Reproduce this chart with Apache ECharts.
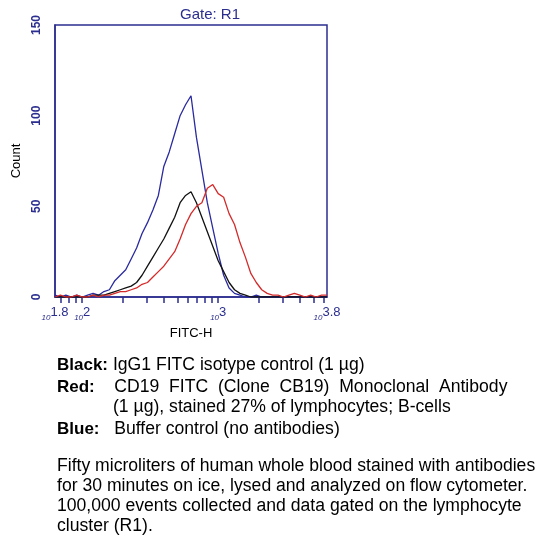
<!DOCTYPE html>
<html><head><meta charset="utf-8">
<script src="https://cdn.jsdelivr.net/npm/echarts@6/dist/echarts.min.js"></script>
<style>html,body{margin:0;padding:0;background:#fff}#c{width:538px;height:540px}</style>
</head><body><div id="c"></div>
<script>
const xExp = [1.80,1.84,1.88,1.92,1.96,2.00,2.04,2.08,2.12,2.16,2.20,2.24,2.28,2.32,2.36,2.40,2.44,2.48,2.52,2.56,2.60,2.64,2.68,2.72,2.76,2.80,2.84,2.88,2.92,2.96,3.00,3.04,3.08,3.12,3.16,3.20,3.24,3.28,3.32,3.36,3.40,3.44,3.48,3.52,3.56,3.60,3.64,3.68,3.72,3.76,3.80];
const blue = [1,0,1,0,1,0,1,2,1,3,4,9,12,15,21,27,35,41,48,56,72,80,90,100,106,111,88,70,52,38,24,12,5,2,1,0,0,1,0,0,0,0,0,0,0,0,0,0,0,0,0];
const black= [0,0,0,0,0,0,0,1,1,1,2,3,4,5,6,8,12,17,22,27,32,38,44,52,56,58,52,44,36,28,20,14,8,4,2,1,0,0,0,0,0,0,0,0,0,0,0,0,0,0,0];
const red  = [0,1,0,0,1,0,0,1,0,1,1,2,3,3,4,5,7,8,11,14,17,21,25,32,40,46,50,52,60,62,57,55,46,40,30,22,13,8,4,2,1,1,0,1,2,1,0,1,0,1,1];
const xLabels = [1.8,2,3,3.8];
const minorTicks = [70,80,90,100,200,300,400,500,600,700,800,900,1000,2000,3000,4000,5000,6000].map(v=>Math.log10(v));
const AX = '#2b2e8f';
const mk = a => xExp.map((x,i)=>[x,a[i]]);
const chart = echarts.init(document.getElementById('c'));
const F = '"Liberation Sans", Arial, sans-serif';
const FS = '17.6px ';
const txt = (x,y,text)=>({type:'text',left:x,top:y,style:{text,font:FS+F,fill:'#000'}});
const rt = (x,y,text)=>({type:'text',left:x,top:y,style:{text,font:FS+F,fill:'#000',rich:{b:{fontWeight:'bold',fontSize:17,fontFamily:F}}}});
chart.setOption({
  animation:false,
  grid:{left:55,right:211,top:25,bottom:243,show:true,borderColor:AX,borderWidth:1.5},
  title:{text:'Gate: R1',left:205,top:2,textAlign:'center',textStyle:{color:AX,fontSize:15,fontWeight:'normal',fontFamily:F}},
  xAxis:{type:'value',min:1.8,max:3.8,name:'FITC-H',nameLocation:'middle',nameGap:30,
    nameTextStyle:{color:'#000',fontSize:13,fontFamily:F},
    axisLine:{lineStyle:{color:AX,width:1.5}},splitLine:{show:false},
    axisTick:{customValues:minorTicks,length:6,lineStyle:{color:AX,width:1.5}},
    axisLabel:{customValues:xLabels,margin:9,formatter:v=>'{a|10}{b|'+(Math.round(v*10)/10)+'}',
      rich:{a:{fontSize:8,color:AX,fontFamily:F,fontStyle:'italic',padding:[6,0,0,0]},b:{fontSize:13,color:AX,fontFamily:F,padding:[0,0,4,0]}}}},
  yAxis:{type:'value',min:0,max:150,interval:50,name:'Count',nameLocation:'middle',nameGap:32,
    nameTextStyle:{color:'#000',fontSize:13,fontFamily:F},
    axisLine:{show:true,lineStyle:{color:AX,width:1.5}},splitLine:{show:false},
    axisTick:{show:false},
    axisLabel:{rotate:90,color:AX,fontSize:12,fontWeight:'bold',fontFamily:F,margin:12}},
  series:[
    {type:'line',data:mk(blue),symbol:'none',lineStyle:{color:'#2a2aa0',width:1.3}},
    {type:'line',data:mk(black),symbol:'none',lineStyle:{color:'#111',width:1.3}},
    {type:'line',data:mk(red),symbol:'none',lineStyle:{color:'#d42a2a',width:1.3}}
  ],
  graphic:[
    rt(57,356,'{b|Black:} IgG1 FITC isotype control (1 µg)'),
    rt(57,378,'{b|Red:}    CD19  FITC  (Clone  CB19)  Monoclonal  Antibody'),
    txt(113,398,'(1 µg), stained 27% of lymphocytes; B-cells'),
    rt(57,420,'{b|Blue:}   Buffer control (no antibodies)'),
    txt(57,457,'Fifty microliters of human whole blood stained with antibodies'),
    txt(57,477,'for 30 minutes on ice, lysed and analyzed on flow cytometer.'),
    txt(57,497,'100,000 events collected and data gated on the lymphocyte'),
    txt(57,517,'cluster (R1).')
  ]
});
</script></body></html>
